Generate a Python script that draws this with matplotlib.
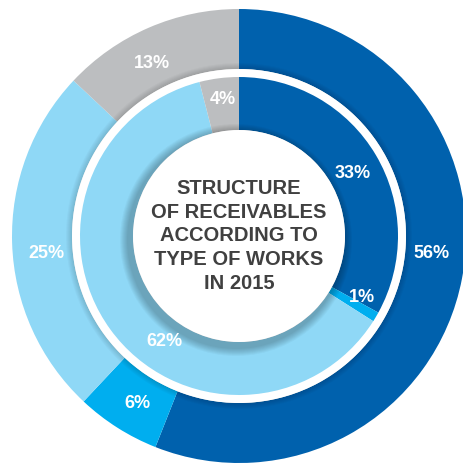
import matplotlib.pyplot as plt
from matplotlib.patches import Circle

plt.rcParams['font.family'] = ['Liberation Sans', 'DejaVu Sans']

# data (clockwise from 12 o'clock)
outer_vals = [56, 6, 25, 13]
inner_vals = [33, 1, 62, 4]
colors = ['#0061ad', '#00aeef', '#8fd8f6', '#bcbec0']
outer_labels = ['56%', '6%', '25%', '13%']
inner_labels = ['33%', '1%', '62%', '4%']
title = 'STRUCTURE\nOF RECEIVABLES\nACCORDING TO\nTYPE OF WORKS\nIN 2015'

# label positions (pixels from centre)
outer_pos = [(193, -17), (-102, -167), (-193, -17), (-87, 173)]
inner_pos = [(114, 63), (123, -62), (-75, -105), (-16, 136)]

fig = plt.figure(figsize=(4.63, 4.63), dpi=100)
ax = fig.add_axes([0, 0, 1, 1])

R_out, W_out = 227, 60
R_in, W_in = 159, 53

ax.pie(outer_vals, colors=colors, radius=R_out, startangle=90, counterclock=False,
       wedgeprops=dict(width=W_out, linewidth=0), frame=True)
# soft shadow at the inner edge of the outer ring
for k in range(6):
    ax.add_patch(Circle((0, 0), R_out - W_out + 6 - k, color='black', alpha=0.025, lw=0, zorder=2))
ax.add_patch(Circle((0, 0), R_out - W_out, color='white', lw=0, zorder=3))

ax.pie(inner_vals, colors=colors, radius=R_in, startangle=90, counterclock=False,
       wedgeprops=dict(width=W_in, linewidth=0), frame=True)
for w in ax.patches[-4:]:
    w.set_zorder(4)

# drop shadow of the centre disc
r0 = R_in - W_in
for k in range(8):
    ax.add_patch(Circle((-3, -4), r0 + 10 - k, color='black', alpha=0.03, lw=0, zorder=5))
ax.add_patch(Circle((0, 0), r0, color='white', lw=0, zorder=6))

ax.set_xlim(-239, 224)
ax.set_ylim(-227, 236)
ax.set_aspect('equal')
ax.axis('off')

for lab, (x, y) in zip(outer_labels, outer_pos):
    ax.text(x, y, lab, color='white', fontsize=13, fontweight='bold', ha='center', va='center', zorder=10)
for lab, (x, y) in zip(inner_labels, inner_pos):
    ax.text(x, y, lab, color='white', fontsize=13, fontweight='bold', ha='center', va='center', zorder=10)

ax.text(0, 0, title, color='#404040', fontsize=14.5, fontweight='bold', ha='center', va='center',
        linespacing=1.32, zorder=10)

fig.savefig('out.png', dpi=100)
